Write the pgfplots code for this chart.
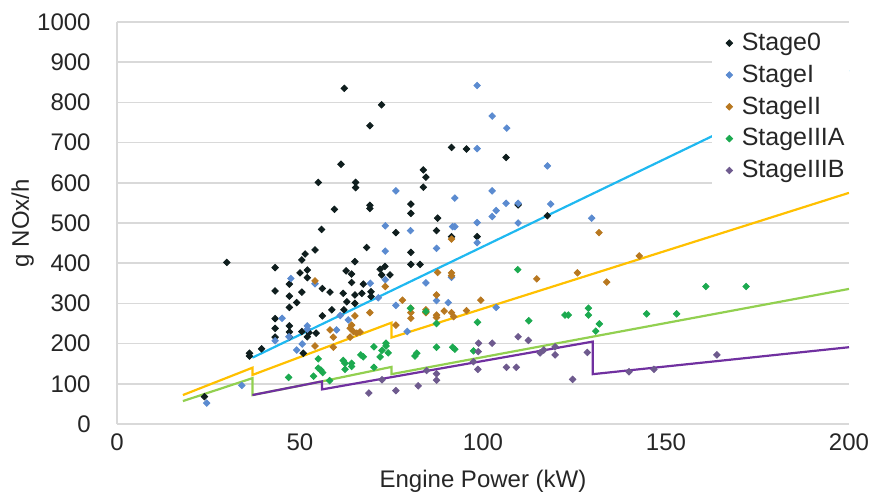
\documentclass[border=0pt]{standalone}
\usepackage{fontspec}
\setmainfont{Liberation Sans}
\usepackage{pgfplots}
\pgfplotsset{compat=1.18}

\definecolor{gridgray}{HTML}{D9D9D9}
\definecolor{txt}{HTML}{262626}
\definecolor{st0}{HTML}{0F1E1E}
\definecolor{st1}{HTML}{5B8BD0}
\definecolor{st2}{HTML}{B87820}
\definecolor{st3}{HTML}{1CAA50}
\definecolor{st4}{HTML}{6E5A8E}
\definecolor{lblue}{HTML}{1FB8F0}
\definecolor{lorange}{HTML}{FFC000}
\definecolor{lgreen}{HTML}{92D050}
\definecolor{lpurple}{HTML}{7030A0}

\pgfplotsset{
  pts/.style={only marks, mark=square*, mark size=1.15bp,
    mark options={rotate=45, draw=#1, fill=#1},
    legend image code/.code={\path (0bp,0bp) (12.5bp,0bp);
      \draw[mark repeat=2, mark phase=2, ##1]
      plot coordinates {(0bp,0bp)(7.5bp,0bp)(12.5bp,0bp)};}},
  lim/.style={#1, line width=1.1bp, no marks, forget plot},
}

\begin{document}
\begin{tikzpicture}[font=\fontsize{12bp}{14bp}\selectfont, text=txt]
\begin{axis}[
  scale only axis, width=366bp, height=201bp,
  xmin=0, xmax=200, ymin=0, ymax=1000,
  xtick={0,50,...,200}, ytick={0,100,...,1000},
  axis x line*=bottom, axis y line*=left,
  axis line style={draw=gridgray, line width=0.75bp},
  major tick length=0pt,
  ymajorgrids, grid style={draw=gridgray, line width=0.75bp},
  /pgf/number format/assume math mode=true,
  /pgf/number format/1000 sep={},
  yticklabel style={anchor=east, inner sep=0pt, xshift=-13bp},
  xticklabel style={anchor=north, inner sep=0pt, yshift=-4.5bp},
  xlabel={Engine Power (kW)},
  ylabel={g NOx/h},
  xlabel style={at={(axis description cs:0.5,-0.142)}, anchor=center},
  ylabel style={at={(axis description cs:-0.129,0.5)}, anchor=center},
  legend cell align=left,
  legend style={at={(1,0.993)}, anchor=north east, draw=none, fill=white,
    inner xsep=1bp, inner ysep=1bp, row sep=0pt,
    nodes={inner xsep=1bp, inner ysep=2.85bp},
    font=\fontsize{12.5bp}{15bp}\selectfont},
]

% Stage0
\addplot[pts=st0] coordinates {
(23.9,68)(30,402)(36.2,176)(36.2,169)(39.5,187)
(43.2,389)(43.2,331)(43.2,262)(43.2,238)(43.2,216)
(47.1,348)(47.1,318)(47.1,290)(47.1,244)(47.1,229)(47.1,217)
(49.1,302)(50,376)(50.9,176)(50.5,408)(50.5,328)(50.5,230)
(51.4,423)(52,383)(52,364)(52,217)(52.5,227)(54.1,433)(54.4,226)
(55,601)(55.9,484)(56.1,337)(56.1,269)(58.2,328)(58.7,284)
(59.4,534)(61.2,646)(61.8,325)(62.1,835)(62,284)(62.6,381)(62.8,304)
(64.1,373)(64.1,352)(65,404)(65,321)(65,300)(65.2,601)(65.2,588)
(66.9,325)(67.3,348)(68.2,439)(69.1,742)(69.1,544)(69.1,536)
(69.4,329)(69.4,317)(71.9,385)(72.3,371)(72.3,794)(73.2,392)(74.6,371)
(76.2,476)(80.3,547)(80.3,524)(80.3,427)(80.3,397)(82.8,397)
(83.7,632)(84.4,614)(83.7,589)(87.6,512)(87.3,481)
(91.4,688)(91.4,466)(95.5,684)(98.4,466)(106.3,663)(109.6,545)(117.6,518)
};
\addlegendentry{Stage0}

% StageI
\addplot[pts=st1] coordinates {
(24.5,52)(34.1,96)(43.2,207)(45.1,263)(47.5,362)(47,217)(49.1,184)
(50.6,199)(52,244)(52,236)(54.1,349)(60,234)(61,270)(63.2,259)
(69.2,350)(71.4,314)(73.3,359)(73.3,430)(73.3,493)(76.2,295)(76.2,580)
(79.3,230)(80.2,481)(84.4,351)(87.3,437)(87.3,307)(90.5,302)(91.4,365)
(91.7,491)(92.3,491)(92.3,562)(98.4,842)(98.4,685)(98.4,501)(98.4,451)
(102.5,766)(102.5,580)(102.5,516)(103.6,531)(103.6,290)
(106.5,736)(106.3,549)(109.6,549)(109.6,500)
(117.6,642)(118.5,547)(129.7,512)
};
\addlegendentry{StageI}

% StageII
\addplot[pts=st2] coordinates {
(54.1,356)(54.1,194)(58.2,234)(59.1,216)(59.1,191)
(63.7,238)(64.6,230)(65.5,226)(66.4,229)(64.1,246)(63.7,216)(65,269)
(69.1,277)(73.3,342)(76.2,246)(78,308)(80.3,288)(80.3,277)(80.3,263)
(84.4,284)(84.4,277)(87.3,321)(87.6,377)(87.3,271)(87.3,265)(89.4,281)
(91.4,460)(91.4,376)(91.4,369)(91.4,277)(92,267)(95.5,282)(99.4,308)
(114.7,361)(125.8,376)(131.7,476)(133.8,353)(142.7,418)
};
\addlegendentry{StageII}

% StageIIIA
\addplot[pts=st3] coordinates {
(46.9,116)(53.7,119)(55,162)(55,139)(55.7,134)(56.2,128)(58.1,108)
(61.8,158)(62.3,151)(64.1,151)(64.1,143)(62.3,136)(66.6,172)(67.3,167)
(70.2,192)(70.2,141)(71.9,167)(72.4,183)(73.5,201)(73.5,194)(74.1,177)
(80.2,288)(81.9,176)(81.4,169)(84.4,280)(87.3,250)(87.3,191)
(91.7,191)(92.3,186)(97.4,182)(98.5,253)(109.5,384)(112.5,257)
(122.4,271)(123.3,271)(128.8,288)(128.8,271)(130.8,231)(131.8,249)
(144.7,274)(152.9,274)(160.9,342)(171.9,342)
};
\addlegendentry{StageIIIA}

% StageIIIB
\addplot[pts=st4] coordinates {
(68.8,77)(72.4,110)(76.2,83)(82.3,95)(84.6,133)(87.3,125)(87.3,109)
(97.4,155)(98.6,136)(98.8,201)(98.7,180)(102.5,201)(106.4,141)(109.1,141)
(109.6,217)(112.4,208)(115.6,177)(116.6,184)(119.7,192)(119.7,172)
(124.5,111)(128.5,178)(139.9,130)(146.7,136)(163.9,172)
};
\addlegendentry{StageIIIB}

% limit lines
\addplot[lim=lblue] coordinates {(37,165)(200,880)};
\addplot[lim=lorange] coordinates {(18,72)(37,140)(37,122)(75,252)(75,215)(200,575)};
\addplot[lim=lgreen] coordinates {(18,57)(37,114)(37,72)(56,106)(75,142)(75,124)(200,336)};
\addplot[lim=lpurple] coordinates {(37,72)(56,106)(56,86)(130,205)(130,124)(200,191)};

\end{axis}
\pgfresetboundingbox
\path[use as bounding box] (-58.5bp,-35bp) rectangle (377.5bp,212bp);
\end{tikzpicture}
\end{document}
